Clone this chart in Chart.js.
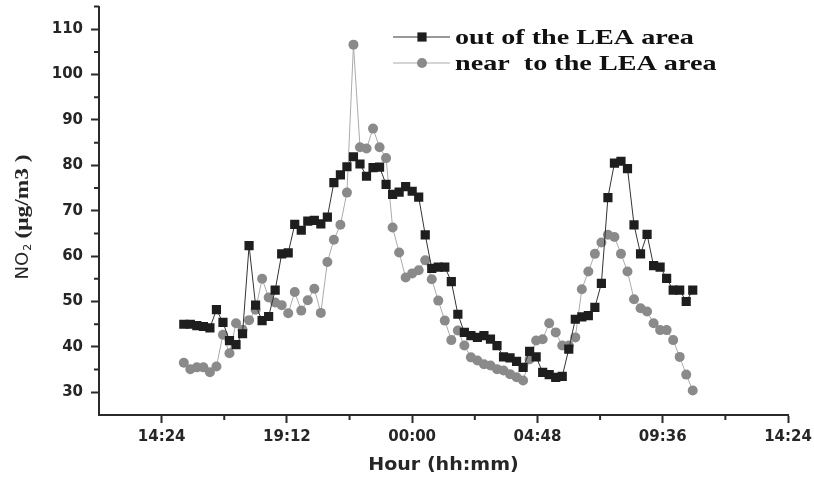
<!DOCTYPE html>
<html>
<head>
<meta charset="utf-8">
<title>NO2 near and out of the LEA area</title>
<script src="https://cdn.jsdelivr.net/npm/chart.js@4.4.1/dist/chart.umd.min.js"></script>
<style>
    html, body { margin: 0; padding: 0; background: #fff; }
</style>
</head>
<body>
<canvas id="no2Chart" width="814" height="479"></canvas>
<script>
// Sampling times (every 15 min, 15:15 -> 10:45 next day)
const times = [
    '15:15','15:30','15:45','16:00','16:15','16:30','16:45','17:00','17:15','17:30',
    '17:45','18:00','18:15','18:30','18:45','19:00','19:15','19:30','19:45','20:00',
    '20:15','20:30','20:45','21:00','21:15','21:30','21:45','22:00','22:15','22:30',
    '22:45','23:00','23:15','23:30','23:45','00:00','00:15','00:30','00:45','01:00',
    '01:15','01:30','01:45','02:00','02:15','02:30','02:45','03:00','03:15','03:30',
    '03:45','04:00','04:15','04:30','04:45','05:00','05:15','05:30','05:45','06:00',
    '06:15','06:30','06:45','07:00','07:15','07:30','07:45','08:00','08:15','08:30',
    '08:45','09:00','09:15','09:30','09:45','10:00','10:15','10:30','10:45'
];

// NO2 (ug/m3) out of the LEA area
const outOfLea = [
    45.0, 45.0, 44.7, 44.5, 44.2, 48.2, 45.4, 41.4, 40.5, 42.9,
    62.3, 49.2, 45.8, 46.7, 52.5, 60.5, 60.7, 67.0, 65.7, 67.7,
    67.9, 67.1, 68.6, 76.2, 77.9, 79.7, 81.9, 80.3, 77.6, 79.5,
    79.6, 75.8, 73.6, 74.1, 75.3, 74.3, 73.0, 64.7, 57.3, 57.6,
    57.6, 54.4, 47.2, 43.2, 42.5, 42.1, 42.5, 41.7, 40.3, 37.8,
    37.6, 36.8, 35.5, 39.0, 37.8, 34.4, 33.9, 33.3, 33.5, 39.5,
    46.1, 46.6, 46.9, 48.7, 54.0, 72.9, 80.5, 80.9, 79.3, 66.9,
    60.5, 64.8, 57.9, 57.6, 55.1, 52.5, 52.5, 50.0, 52.5
];

// NO2 (ug/m3) near to the LEA area
const nearLea = [
    36.5, 35.1, 35.5, 35.5, 34.4, 35.7, 42.7, 38.6, 45.2, 43.8,
    45.9, 48.2, 55.0, 50.9, 49.8, 49.2, 47.4, 52.1, 48.0, 50.3,
    52.8, 47.5, 58.7, 63.6, 66.9, 74.0, 106.6, 84.0, 83.7, 88.1,
    84.0, 81.6, 66.3, 60.8, 55.3, 56.2, 56.9, 59.1, 54.9, 50.2,
    45.8, 41.5, 43.6, 40.3, 37.7, 37.0, 36.2, 35.9, 35.1, 34.8,
    34.0, 33.3, 32.6, 37.3, 41.4, 41.7, 45.2, 43.2, 40.3, 40.3,
    42.1, 52.7, 56.6, 60.5, 63.0, 64.7, 64.2, 60.5, 56.6, 50.5,
    48.5, 47.8, 45.2, 43.7, 43.7, 41.5, 37.8, 33.9, 30.4
];

const seriesLabels = ['out of the LEA area', 'near  to the LEA area'];

// x axis runs in hours after 12:00 of the first day
const xMajor = [2.4, 7.2, 12, 16.8, 21.6, 26.4];
const xMinor = [4.8, 9.6, 14.4, 19.2, 24];
const yMajor = [30, 40, 50, 60, 70, 80, 90, 100, 110];
const yMinor = [35, 45, 55, 65, 75, 85, 95, 105, 115];

const axisColor = '#2a2a2a';
const textColor = '#262626';

function toHours(t) {
    const [h, m] = t.split(':').map(Number);
    let v = h + m / 60;
    if (v < 12) v += 24;
    return v - 12;
}

function fmtHour(v) {
    const total = Math.round((v + 12) * 60);
    const hh = Math.floor(total / 60) % 24;
    const mm = total % 60;
    return String(hh).padStart(2, '0') + ':' + String(mm).padStart(2, '0');
}

const xs = times.map(toHours);

// text with a horizontal stretch (the scan is wider than tall)
function wideText(ctx, text, x, y, font, sx, align) {
    ctx.save();
    ctx.font = font;
    ctx.translate(x, y);
    ctx.scale(sx, 1);
    ctx.textAlign = align || 'left';
    ctx.textBaseline = 'middle';
    ctx.fillText(text, 0, 0);
    ctx.restore();
}

// minor ticks, axis titles and the in-plot legend
const decorations = {
    id: 'decorations',
    afterDraw(chart) {
        const { ctx, chartArea: a, scales: { x, y } } = chart;
        ctx.save();
        ctx.strokeStyle = axisColor;
        ctx.lineWidth = 2;
        ctx.beginPath();
        xMinor.forEach(v => {
            const px = x.getPixelForValue(v);
            ctx.moveTo(px, a.bottom);
            ctx.lineTo(px, a.bottom + 5);
        });
        yMinor.forEach(v => {
            const py = y.getPixelForValue(v);
            ctx.moveTo(a.left, py);
            ctx.lineTo(a.left - 5, py);
        });
        ctx.stroke();

        ctx.fillStyle = textColor;
        // x title
        wideText(ctx, 'Hour (hh:mm)', (a.left + a.right) / 2, 466, 'bold 17px "DejaVu Sans"', 1.12, 'center');

        // y title, read bottom to top
        const baseY = a.top + 273;
        ctx.save();
        ctx.translate(23, baseY);
        ctx.rotate(-Math.PI / 2);
        ctx.font = '18px "DejaVu Sans"';
        ctx.textBaseline = 'middle';
        ctx.fillText('NO', 0, 0);
        const noW = ctx.measureText('NO').width;
        ctx.font = '11px "DejaVu Sans"';
        ctx.fillText('2', noW + 1, 5);
        ctx.restore();
        ctx.save();
        ctx.translate(23, baseY - 41);
        ctx.rotate(-Math.PI / 2);
        wideText(ctx, '(μg/m3 )', 0, 0, 'bold 19px "Liberation Serif"', 1.23, 'left');
        ctx.restore();

        // legend
        chart.data.datasets.forEach((ds, i) => {
            const ly = 37 + i * 26;
            ctx.strokeStyle = ds.borderColor;
            ctx.lineWidth = 1;
            ctx.beginPath();
            ctx.moveTo(393, ly);
            ctx.lineTo(450, ly);
            ctx.stroke();
            ctx.fillStyle = ds.pointBackgroundColor;
            ctx.beginPath();
            if (ds.pointStyle === 'rect') {
                const s = ds.pointRadius * Math.SQRT1_2;
                ctx.rect(422 - s, ly - s, 2 * s, 2 * s);
            } else {
                ctx.arc(422, ly, ds.pointRadius, 0, Math.PI * 2);
            }
            ctx.fill();
            ctx.fillStyle = '#111';
            wideText(ctx, ds.label, 455, ly + 1, 'bold 22px "Liberation Serif"', 1.28, 'left');
        });
        ctx.restore();
    }
};

new Chart(document.getElementById('no2Chart'), {
    type: 'line',
    data: {
        datasets: [{
            label: seriesLabels[0],
            data: xs.map((v, i) => ({ x: v, y: outOfLea[i] })),
            borderColor: '#333333',
            borderWidth: 1,
            pointStyle: 'rect',
            pointRadius: 6.5,
            pointBorderWidth: 0,
            pointBackgroundColor: '#1e1e1e',
            tension: 0
        }, {
            label: seriesLabels[1],
            data: xs.map((v, i) => ({ x: v, y: nearLea[i] })),
            borderColor: '#ababab',
            borderWidth: 1,
            pointStyle: 'circle',
            pointRadius: 5,
            pointBorderWidth: 0,
            pointBackgroundColor: '#8a8a8a',
            tension: 0
        }]
    },
    options: {
        responsive: false,
        animation: false,
        layout: { padding: { top: 5, right: 26, left: 0, bottom: 0 } },
        plugins: {
            legend: { display: false },
            tooltip: { enabled: false }
        },
        scales: {
            x: {
                type: 'linear',
                min: 0,
                max: 26.4,
                afterBuildTicks: s => { s.ticks = xMajor.map(v => ({ value: v })); },
                afterFit: s => { s.height = 64; s.paddingLeft = 0; s.paddingRight = 0; },
                ticks: {
                    autoSkip: false,
                    maxRotation: 0,
                    padding: 5,
                    color: textColor,
                    font: { family: 'DejaVu Sans', size: 15, weight: 'bold' },
                    callback: v => fmtHour(v)
                },
                grid: { drawOnChartArea: false, tickLength: 8, tickWidth: 2, tickColor: axisColor },
                border: { color: axisColor, width: 2 }
            },
            y: {
                min: 25,
                max: 115,
                afterBuildTicks: s => { s.ticks = yMajor.map(v => ({ value: v })); },
                afterFit: s => { s.width = 99; s.paddingTop = 0; s.paddingBottom = 0; },
                ticks: {
                    padding: 8,
                    color: textColor,
                    font: { family: 'DejaVu Sans', size: 15, weight: 'bold' }
                },
                grid: { drawOnChartArea: false, tickLength: 8, tickWidth: 2, tickColor: axisColor },
                border: { color: axisColor, width: 2 }
            }
        }
    },
    plugins: [decorations]
});
</script>
</body>
</html>
